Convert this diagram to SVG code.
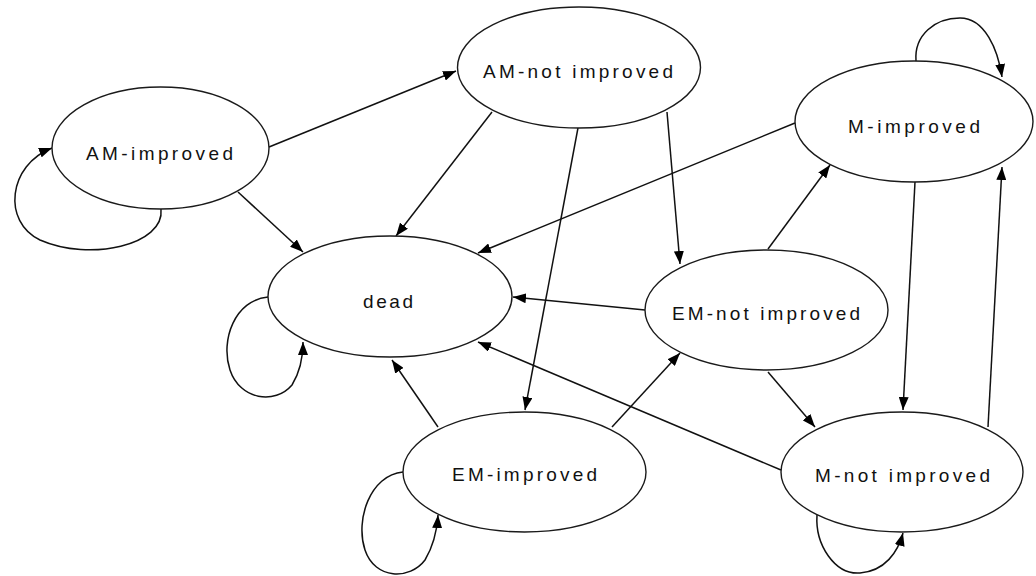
<svg xmlns="http://www.w3.org/2000/svg" width="1036" height="576" viewBox="0 0 1036 576">
  <style>
    .node ellipse { fill: #ffffff; stroke: #1a1a1a; stroke-width: 1.4; }
    .node text { font-family: "Liberation Sans", "DejaVu Sans", sans-serif; font-size: 19px; fill: #111111; }
    .edge { fill: none; stroke: #111111; stroke-width: 1.5; marker-end: url(#arrow); }
  </style>
  <defs>
    <marker id="arrow" markerUnits="userSpaceOnUse" markerWidth="14" markerHeight="10" refX="13" refY="5" orient="auto">
      <path d="M0,0 L13,5 L0,10 z" fill="#000000"/>
    </marker>
  </defs>
  <rect width="1036" height="576" fill="#ffffff"/>

  <!-- transitions -->
  <g id="connectors">
    <path class="edge" d="M269,147 L456,71"/>
    <path class="edge" d="M238,192 L303,252"/>
    <path class="edge" d="M161,209 C165,245 90,262 40,240 C2,222 8,165 52,148"/>
    <path class="edge" d="M492,112 L396,236"/>
    <path class="edge" d="M578,128 L525,410"/>
    <path class="edge" d="M667,112 L680,264"/>
    <path class="edge" d="M795,123 L478,253"/>
    <path class="edge" d="M916,61 C914,35 935,18 960,18 C985,18 998,50 1002,77"/>
    <path class="edge" d="M915,182 L903,410"/>
    <path class="edge" d="M268,297 C235,300 220,340 230,370 C240,400 275,405 292,385 C300,372 303,356 303,342"/>
    <path class="edge" d="M768,249 L830,165"/>
    <path class="edge" d="M645,310 L513,297"/>
    <path class="edge" d="M768,372 L815,427"/>
    <path class="edge" d="M438,427 L392,360"/>
    <path class="edge" d="M612,427 L680,353"/>
    <path class="edge" d="M403,472 C370,475 355,520 365,550 C375,580 410,580 425,560 C434,545 437,530 438,515"/>
    <path class="edge" d="M988,427 L1002,167"/>
    <path class="edge" d="M781,470 L478,342"/>
    <path class="edge" d="M817,515 C815,545 835,575 860,573 C885,571 898,552 903,533"/>
  </g>

  <g id="am-improved" class="node">
    <ellipse cx="160.5" cy="148" rx="108.5" ry="61"/>
    <text x="86" y="160" textLength="147" lengthAdjust="spacing">AM-improved</text>
  </g>
  <g id="am-not-improved" class="node">
    <ellipse cx="579" cy="67.5" rx="121.5" ry="60.5"/>
    <text x="483" y="78" textLength="190" lengthAdjust="spacing">AM-not improved</text>
  </g>
  <g id="m-improved" class="node">
    <ellipse cx="914" cy="121.5" rx="119" ry="60.5"/>
    <text x="848" y="133" textLength="132" lengthAdjust="spacing">M-improved</text>
  </g>
  <g id="dead" class="node">
    <ellipse cx="390" cy="296.5" rx="122" ry="60.5"/>
    <text x="363" y="308" textLength="50" lengthAdjust="spacing">dead</text>
  </g>
  <g id="em-not-improved" class="node">
    <ellipse cx="766.5" cy="310" rx="121.5" ry="60"/>
    <text x="672" y="320" textLength="188" lengthAdjust="spacing">EM-not improved</text>
  </g>
  <g id="em-improved" class="node">
    <ellipse cx="524.5" cy="472" rx="121.5" ry="60"/>
    <text x="452" y="481" textLength="145" lengthAdjust="spacing">EM-improved</text>
  </g>
  <g id="m-not-improved" class="node">
    <ellipse cx="902" cy="472" rx="121" ry="60"/>
    <text x="815" y="482" textLength="175" lengthAdjust="spacing">M-not improved</text>
  </g>
</svg>
